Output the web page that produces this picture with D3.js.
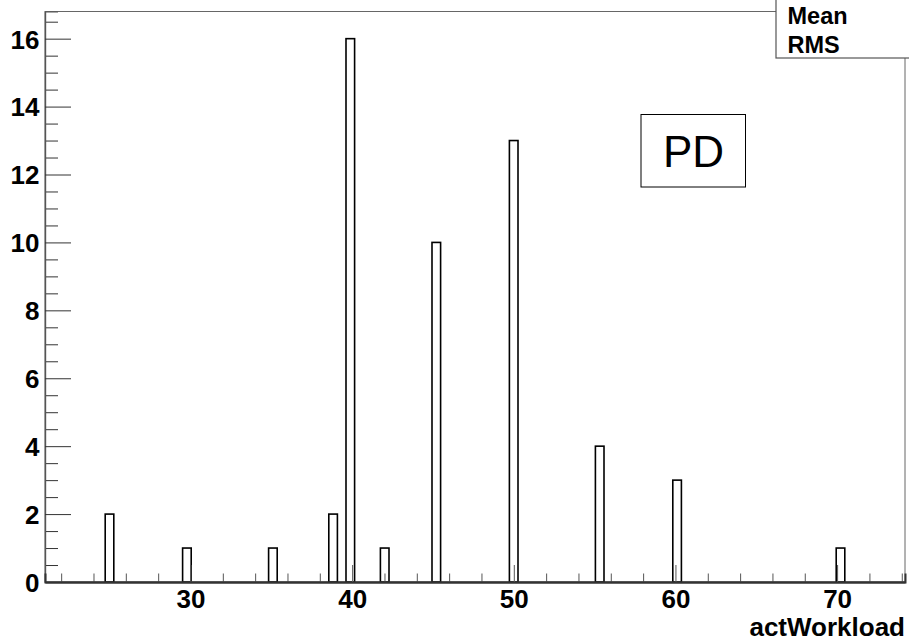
<!DOCTYPE html>
<html>
<head>
<meta charset="utf-8">
<script src="https://cdn.jsdelivr.net/npm/d3@7"></script>
<style>
  html, body { margin: 0; padding: 0; background: #fff; }
  svg { display: block; }
  text { font-family: "Liberation Sans", Arial, Helvetica, sans-serif; }
</style>
</head>
<body>
<svg id="chart" width="909" height="641"></svg>
<script>
// ---- data (histogram of actWorkload, 100 bins) ----
const histRange = [21, 74.2];
const nBins = 100;
const binValues = [25, 30, 35, 38.8, 40, 42, 45, 50, 55.3, 60, 70];
const binCounts = [2, 1, 1, 2, 16, 1, 10, 13, 4, 3, 1];
const yMax = 16.8;
const xMajorTicks = [30, 40, 50, 60, 70];
const xMinorTicks = [22, 24, 26, 28, 32, 34, 36, 38, 42, 44, 46, 48, 52, 54, 56, 58, 62, 64, 66, 68, 72, 74];
const yMajorTicks = [0, 2, 4, 6, 8, 10, 12, 14, 16];
const yMinorTicks = d3.range(0, 16.75, 0.5).filter(v => v % 2 !== 0);
const xTitle = "actWorkload";
const statLabels = ["Mean", "RMS"];
const histTitle = "PD";

// ---- layout ----
const L = 45, R = 905, T = 11.5, B = 582;
const svg = d3.select("#chart");

const x = d3.scaleLinear().domain(histRange).range([L, R]);
const y = d3.scaleLinear().domain([0, yMax]).range([B, T]);
const binW = (histRange[1] - histRange[0]) / nBins;

// frame
svg.append("rect").attr("x", L).attr("y", T).attr("width", R - L).attr("height", B - T)
  .attr("fill", "#fff").attr("stroke", "#666").attr("stroke-width", 1);

// bars
const bins = binValues.map((v, i) => {
  const k = Math.floor((v - histRange[0]) / binW);
  return { x0: histRange[0] + k * binW, x1: histRange[0] + (k + 1) * binW, n: binCounts[i] };
});
svg.append("g").selectAll("rect").data(bins).join("rect")
  .attr("x", d => x(d.x0))
  .attr("width", d => x(d.x1) - x(d.x0))
  .attr("y", d => y(d.n))
  .attr("height", d => y(0) - y(d.n))
  .attr("fill", "#fff")
  .attr("stroke", "#000")
  .attr("stroke-width", 1.6);

// y axis
const yMinorAxis = d3.axisLeft(y).tickValues(yMinorTicks).tickSize(-13).tickFormat("");
const gyMin = svg.append("g").attr("transform", `translate(${L},0)`).call(yMinorAxis);
const yAxis = d3.axisLeft(y).tickValues(yMajorTicks).tickSizeInner(-26).tickSizeOuter(0).tickPadding(6).tickFormat(d3.format("d"));
const gy = svg.append("g").attr("transform", `translate(${L},0)`).call(yAxis);
[gyMin, gy].forEach(g => {
  g.select(".domain").attr("stroke", "#555").attr("stroke-width", 1.2);
  g.selectAll(".tick line").attr("stroke", "#333").attr("stroke-width", 1);
});
gy.selectAll(".tick text")
  .attr("font-size", 26).attr("font-weight", "bold").attr("fill", "#000")
  .attr("font-family", "Liberation Sans, Arial, sans-serif")
  .attr("x", -5.5).attr("dy", "0.36em");

// x axis
const xMinorAxis = d3.axisBottom(x).tickValues(xMinorTicks).tickSize(-8.5).tickFormat("");
const gxMin = svg.append("g").attr("transform", `translate(0,${B})`).call(xMinorAxis);
const xAxis = d3.axisBottom(x).tickValues(xMajorTicks).tickSizeInner(-17).tickSizeOuter(0).tickFormat(d3.format("d"));
const gx = svg.append("g").attr("transform", `translate(0,${B})`).call(xAxis);
[gxMin, gx].forEach(g => {
  g.select(".domain").attr("stroke", "#333").attr("stroke-width", 2);
  g.selectAll(".tick line").attr("stroke", "#555").attr("stroke-width", 1);
});
gx.selectAll(".tick text")
  .attr("font-size", 26).attr("font-weight", "bold").attr("fill", "#000")
  .attr("font-family", "Liberation Sans, Arial, sans-serif")
  .attr("y", 26).attr("dy", 0);

// x title
svg.append("text").attr("x", R).attr("y", 636).attr("text-anchor", "end")
  .attr("font-size", 26).attr("font-weight", "bold").text(xTitle);

// stats box
svg.append("rect").attr("x", 776).attr("y", -2).attr("width", 140).attr("height", 60)
  .attr("fill", "#fff").attr("stroke", "#555").attr("stroke-width", 1.2);
svg.selectAll("text.stat").data(statLabels).join("text").attr("class", "stat")
  .attr("x", 787.5).attr("y", (d, i) => 24.3 + i * 28.4)
  .attr("font-size", 23.5).attr("font-weight", "bold").text(d => d);

// title box
svg.append("rect").attr("x", 641).attr("y", 114.5).attr("width", 104.5).attr("height", 72.5)
  .attr("fill", "#fff").attr("stroke", "#000").attr("stroke-width", 1);
svg.append("text").attr("x", 693.5).attr("y", 167).attr("text-anchor", "middle")
  .attr("font-size", 44).text(histTitle);
</script>
</body>
</html>
